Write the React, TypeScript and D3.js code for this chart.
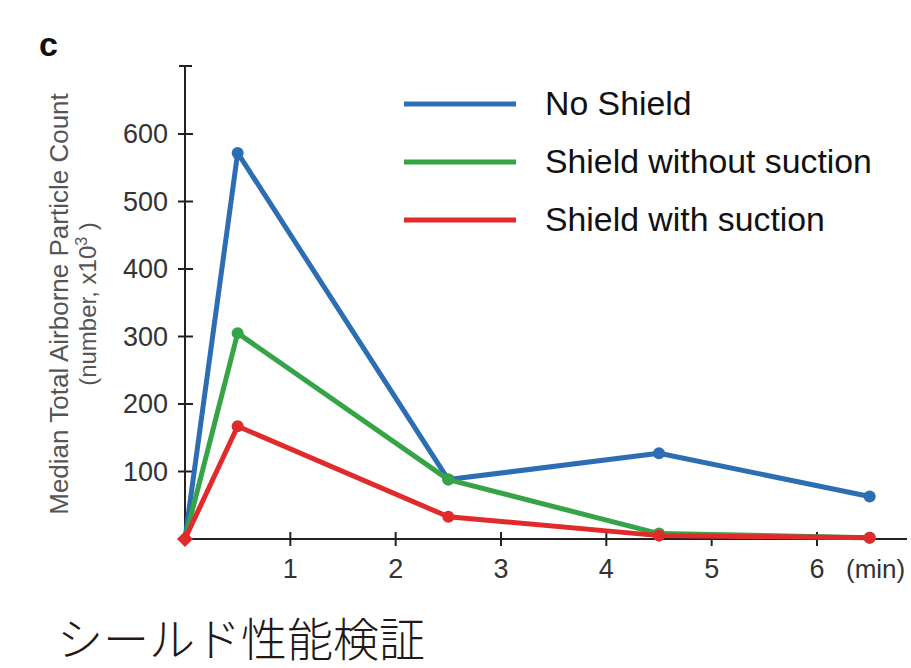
import React from "react";
import * as d3 from "d3";

const times = [0, 0.5, 2.5, 4.5, 6.5];
const seriesNames = ["No Shield", "Shield without suction", "Shield with suction"];
const noShield = [0, 572, 88, 127, 63];
const shieldNoSuction = [0, 305, 88, 8, 2];
const shieldSuction = [0, 167, 33, 5, 2];
const seriesColors = ["#2c6db3", "#35a447", "#e02a2c"];
const yTicks = [100, 200, 300, 400, 500, 600];
const xTicks = [1, 2, 3, 4, 5, 6];

export default function App() {
  const W = 911, H = 668;
  const x = d3.scaleLinear().domain([0, 6]).range([185, 817]);
  const y = d3.scaleLinear().domain([0, 600]).range([539, 134]);
  const data = [noShield, shieldNoSuction, shieldSuction];
  const line = d3.line<number>().x((_, i) => x(times[i])).y((d) => y(d));
  const font = "Liberation Sans, Arial, sans-serif";
  return (
    <svg width={W} height={H} style={{ position: "absolute", left: 0, top: 0, background: "#fff" }}>
      <rect width={W} height={H} fill="#fff" />
      <text x={39} y={56} fontFamily={font} fontWeight="bold" fontSize={34} fill="#111">c</text>
      {/* y axis */}
      <line x1={185} x2={185} y1={65} y2={539} stroke="#222" strokeWidth={2} />
      <line x1={179} x2={192} y1={66} y2={66} stroke="#222" strokeWidth={2} />
      {yTicks.map((t) => (
        <g key={t}>
          <line x1={178} x2={193} y1={y(t)} y2={y(t)} stroke="#222" strokeWidth={2} />
          <text x={168} y={y(t) + 9} textAnchor="end" fontFamily={font} fontSize={27} fill="#333">{t}</text>
        </g>
      ))}
      {/* x axis */}
      <line x1={185} x2={907} y1={539} y2={539} stroke="#222" strokeWidth={2} />
      {xTicks.map((t) => (
        <g key={t}>
          <line x1={x(t)} x2={x(t)} y1={532} y2={546} stroke="#222" strokeWidth={2} />
          <text x={x(t)} y={578} textAnchor="middle" fontFamily={font} fontSize={27} fill="#333">{t}</text>
        </g>
      ))}
      <text x={846} y={578} fontFamily={font} fontSize={26} fill="#333">(min)</text>
      {/* y label */}
      <g transform="translate(60,304) rotate(-90)">
        <text x={0} y={8} textAnchor="middle" fontFamily={font} fontSize={26} fill="#555">Median Total Airborne Particle Count</text>
        <text x={0} y={36} textAnchor="middle" fontFamily={font} fontSize={24} fill="#555">
          (number, x10<tspan dy={-9} fontSize={16}>3</tspan><tspan dy={9}> )</tspan>
        </text>
      </g>
      {/* series */}
      {data.map((s, k) => (
        <g key={k}>
          <path d={line(s) || ""} fill="none" stroke={seriesColors[k]} strokeWidth={5} strokeLinejoin="round" />
          {s.map((v, i) =>
            i === 0 ? null : <circle key={i} cx={x(times[i])} cy={y(v)} r={6} fill={seriesColors[k]} />
          )}
        </g>
      ))}
      <path
        d={`M${x(0) - 8},${y(0)} L${x(0)},${y(0) - 8} L${x(0) + 8},${y(0)} L${x(0)},${y(0) + 8} Z`}
        fill={seriesColors[2]}
      />
      {/* legend */}
      {seriesNames.map((n, k) => (
        <g key={n}>
          <line x1={404} x2={516} y1={104 + k * 58} y2={104 + k * 58} stroke={seriesColors[k]} strokeWidth={5} />
          <text x={545} y={115 + k * 58} fontFamily={font} fontSize={33.8} fill="#111">{n}</text>
        </g>
      ))}
      <text x={57} y={656} fontFamily="Noto Sans CJK JP" fontWeight={300} fontSize={46} fill="#231815">シールド性能検証</text>
    </svg>
  );
}
